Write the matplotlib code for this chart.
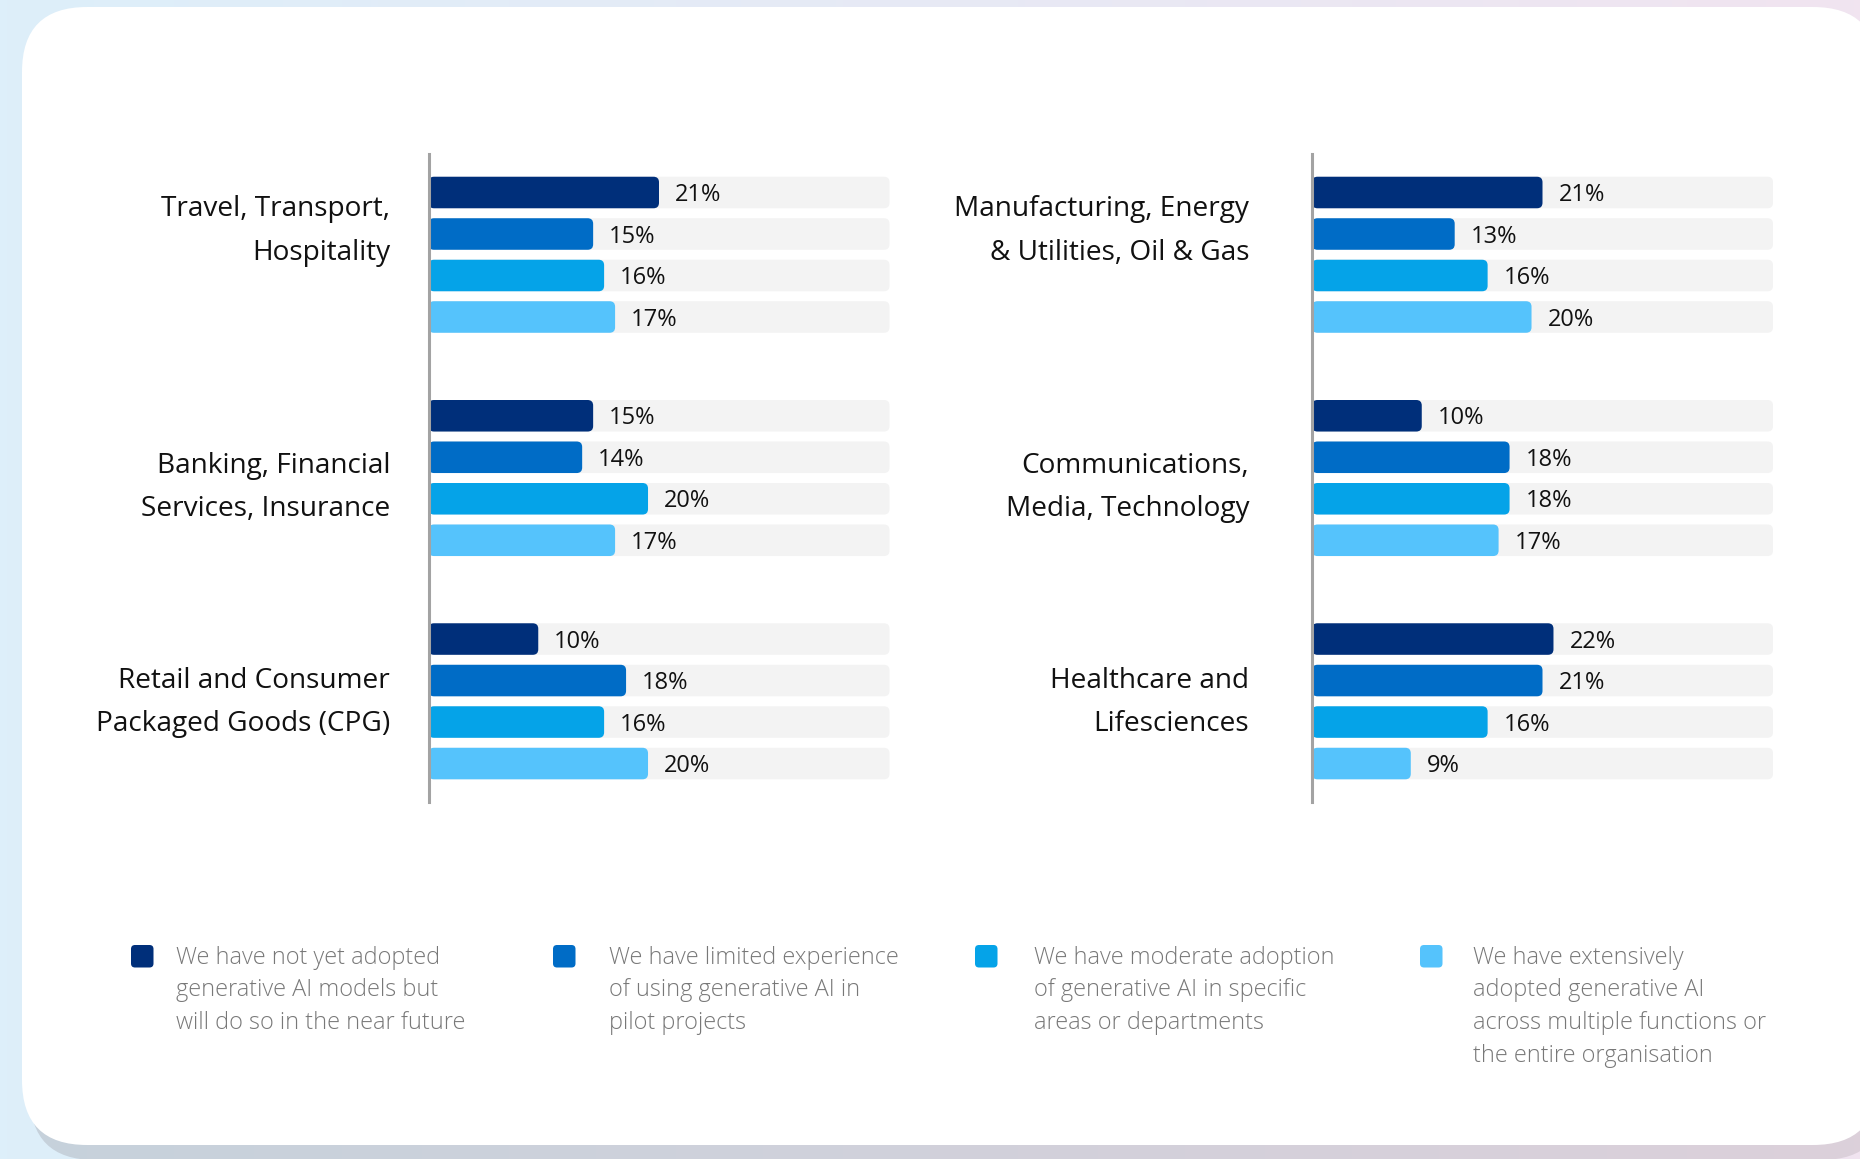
import numpy as np
import matplotlib
matplotlib.use("Agg")
import matplotlib.pyplot as plt
from matplotlib.patches import FancyBboxPatch
from matplotlib.colors import to_rgb
import matplotlib.transforms as mtransforms

# ---------------- data ----------------
series_labels = [
    ["We have not yet adopted", "generative AI models but", "will do so in the near future"],
    ["We have limited experience", "of using generative AI in", "pilot projects"],
    ["We have moderate adoption", "of generative AI in specific", "areas or departments"],
    ["We have extensively", "adopted generative AI", "across multiple functions or", "the entire organisation"],
]
series_colors = ["#002F7A", "#006CC6", "#05A3E8", "#55C3FC"]

left_categories = [
    ["Travel, Transport,", "Hospitality"],
    ["Banking, Financial", "Services, Insurance"],
    ["Retail and Consumer", "Packaged Goods (CPG)"],
]
left_values = [
    [21, 15, 16, 17],
    [15, 14, 20, 17],
    [10, 18, 16, 20],
]

right_categories = [
    ["Manufacturing, Energy", "& Utilities, Oil & Gas"],
    ["Communications,", "Media, Technology"],
    ["Healthcare and", "Lifesciences"],
]
right_values = [
    [21, 13, 16, 20],
    [10, 18, 18, 17],
    [22, 21, 16, 9],
]

X_MAX = 42          # length of the grey track (percent)
GROUP_GAP = 5.38    # distance between groups, in bar rows
BAR_H = 0.76

# ---------------- figure ----------------
W, H = 1860, 1159
fig = plt.figure(figsize=(W / 100, H / 100), dpi=100)
FONT = ["Open Sans", "DejaVu Sans"]

def fx(px):
    return px / W

def fy(py):
    return 1 - py / H

# background / card decoration
bg = fig.add_axes([0, 0, 1, 1])
bg.set_xlim(0, W)
bg.set_ylim(H, 0)
bg.axis("off")

c0 = np.array(to_rgb("#DDEFFA"))
c1 = np.array(to_rgb("#F1E4F0"))
t = np.linspace(0, 1, 256)
grad = (c0[None, :] * (1 - t[:, None]) + c1[None, :] * t[:, None])[None, :, :]
bg.imshow(grad, extent=[0, W, H, 0], aspect="auto", zorder=0)

s0 = np.array(to_rgb("#C6D2DC"))
s1 = np.array(to_rgb("#DCD0DA"))
sgrad = (s0[None, :] * (1 - t[:, None]) + s1[None, :] * t[:, None])[None, :, :]
shadow = FancyBboxPatch((30, 25), 1856, 1160 - 25, boxstyle="round,pad=0,rounding_size=65",
                        facecolor="none", edgecolor="none", zorder=1)
bg.add_patch(shadow)
im = bg.imshow(sgrad, extent=[0, W, H, 0], aspect="auto", zorder=1)
im.set_clip_path(shadow)

card = FancyBboxPatch((22, 7), 1856, 1145 - 7, boxstyle="round,pad=0,rounding_size=65",
                      facecolor="white", edgecolor="none", zorder=2)
bg.add_patch(card)

# ---------------- bar panels ----------------
AX_TOP, AX_BOT = 154, 802
ROW_PX = 41.5
FIRST_ROW = 192.5
y_top = (AX_TOP - FIRST_ROW) / ROW_PX
y_bot = (AX_BOT - FIRST_ROW) / ROW_PX
label_base = [0.57, 1.37, 1.17]   # baseline of first label line, rows below group start
label_step = 43.8 / ROW_PX


def draw_panel(left_px, label_gap_px, categories, values):
    ax = fig.add_axes([fx(left_px), fy(AX_BOT), 461 / W, (AX_BOT - AX_TOP) / H])
    ax.set_xlim(0, X_MAX)
    ax.set_ylim(y_bot, y_top)
    ax.patch.set_alpha(0)
    for s in ["top", "right", "bottom"]:
        ax.spines[s].set_visible(False)
    ax.spines["left"].set_color("#A3A3A3")
    ax.spines["left"].set_linewidth(2.2)
    ax.set_xticks([])
    ax.set_yticks([])

    xpp = X_MAX / 461.0
    ypp = 1 / ROW_PX
    aspect = ypp / xpp
    r = 5.5 * xpp
    trans = mtransforms.blended_transform_factory(ax.transAxes, ax.transData)

    for g, (cat, vals) in enumerate(zip(categories, values)):
        base = g * GROUP_GAP
        for i, v in enumerate(vals):
            y = base + i
            track = FancyBboxPatch((0, y - BAR_H / 2), X_MAX, BAR_H,
                                   boxstyle=f"round,pad=0,rounding_size={r}",
                                   mutation_aspect=aspect, facecolor="#F3F3F3",
                                   edgecolor="none", zorder=1)
            ax.add_patch(track)
            bar = FancyBboxPatch((0, y - BAR_H / 2), v, BAR_H,
                                 boxstyle=f"round,pad=0,rounding_size={r}",
                                 mutation_aspect=aspect, facecolor=series_colors[i],
                                 edgecolor="none", zorder=2)
            ax.add_patch(bar)
            ax.annotate(f"{v}%", xy=(v, y), xytext=(11.5, 0.3), textcoords="offset points",
                        ha="left", va="center_baseline", fontsize=17, color="#111111",
                        family=FONT, zorder=3)
        for k, line in enumerate(cat):
            ax.text(-label_gap_px / 461, base + label_base[g] + k * label_step, line,
                    transform=trans, ha="right", va="baseline", fontsize=20.2,
                    color="#111111", family=FONT)
    return ax


draw_panel(428.5, 38.5, left_categories, left_values)
draw_panel(1312, 63, right_categories, right_values)

# ---------------- legend ----------------
leg_square_x = [131, 553, 975, 1420]
leg_text_x = [175.5, 608.5, 1034, 1473]
for sx, tx, col, lines in zip(leg_square_x, leg_text_x, series_colors, series_labels):
    sq = FancyBboxPatch((sx, 945), 22.5, 22.5, boxstyle="round,pad=0,rounding_size=4",
                        facecolor=col, edgecolor="none", zorder=3)
    bg.add_patch(sq)
    for k, line in enumerate(lines):
        bg.text(tx, 963.5 + k * 32.9, line, ha="left", va="baseline", fontsize=16.9,
                color="#787878", family=FONT, fontweight="light", zorder=3)

fig.savefig("out.png", dpi=100)
